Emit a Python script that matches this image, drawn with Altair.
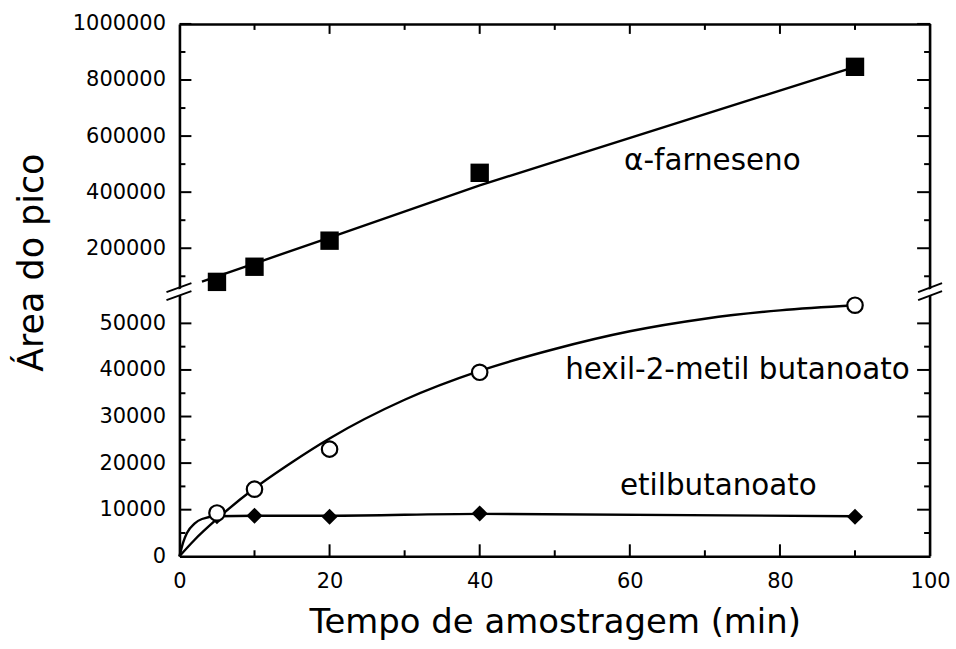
import altair as alt
import pandas as pd

# Sampling times (min)
tempo = [5, 10, 20, 40, 90]

# Peak areas for each compound
farneseno = [80000, 134000, 227000, 469000, 847000]
hexil = [9300, 14400, 23000, 39500, 53900]
etil = [8600, 8700, 8500, 9200, 8500]

# Trend curves drawn through each series
farneseno_fit_x = [3, 20, 40, 90]
farneseno_fit_y = [81000, 238000, 424000, 847000]
hexil_fit_x = [0, 2, 5, 10, 15, 20, 30, 40, 50, 60, 70, 80, 90]
hexil_fit_y = [0, 3500, 8000, 14600, 20200, 25300, 33600, 39800, 44500, 48300, 51000, 52800, 53900]
etil_fit_x = [0, 0.5, 1, 2, 3, 5, 10, 20, 40, 90]
etil_fit_y = [0, 3000, 5000, 7000, 8000, 8600, 8700, 8700, 9100, 8600]

# Axis tick positions
x_labels = [0, 20, 40, 60, 80, 100]
x_major = [20, 40, 60, 80]
x_minor = [10, 30, 50, 70, 90]
upper_labels = [200000, 400000, 600000, 800000, 1000000]
upper_minor = [100000, 300000, 500000, 700000, 900000]
lower_labels = [0, 10000, 20000, 30000, 40000, 50000]
lower_major = [10000, 20000, 30000, 40000, 50000]
lower_minor = [5000, 15000, 25000, 35000, 45000]

FONT = "DejaVu Sans"
W = 753
H_UP = 270
H_LOW = 264
LW = 2.4
AXW = 2.6
LABEL_SIZE = 29.5

xs = alt.Scale(domain=[0, 100], nice=False, zero=False)
ys_up = alt.Scale(domain=[40000, 1000000], nice=False, zero=False)
ys_low = alt.Scale(domain=[0, 56500], nice=False, zero=False)

# Shared axis definitions (every layer of a panel carries the same one)
ax_x_top = alt.Axis(
    orient="top", values=x_major, labels=False, ticks=False,
    domain=True, domainColor="black", domainWidth=AXW, grid=False, title=None,
)
ax_y_up = alt.Axis(
    values=upper_labels, format="d", ticks=False, domain=True,
    domainColor="black", domainWidth=AXW, grid=False, title=None,
    labelFont=FONT, labelFontSize=21, labelPadding=14, labelColor="black",
)
ax_x_bottom = alt.Axis(
    values=x_labels, ticks=False, domain=True, domainColor="black",
    domainWidth=AXW, grid=False, labelFont=FONT, labelFontSize=21,
    labelPadding=14, labelColor="black", labelFlush=False,
    title="Tempo de amostragem (min)", titleFont=FONT, titleFontSize=34,
    titleFontWeight="normal", titleColor="black", titlePadding=14,
)
ax_y_low = alt.Axis(
    values=lower_labels, format="d", ticks=False, domain=True,
    domainColor="black", domainWidth=AXW, grid=False,
    labelFont=FONT, labelFontSize=21, labelPadding=14, labelColor="black",
    title="Área do pico", titleFont=FONT, titleFontSize=35,
    titleFontWeight="normal", titleColor="black", titleAngle=270,
    titleAlign="center", titleBaseline="alphabetic", titleX=-137, titleY=-31,
)

one = pd.DataFrame({"k": [0]})


def ticks_y(values, scale, axis, x0, x1):
    return alt.Chart(pd.DataFrame({"a": values})).mark_rule(
        color="black", strokeWidth=2
    ).encode(
        y=alt.Y("a:Q", scale=scale, axis=axis),
        x=alt.value(x0),
        x2=alt.value(x1),
    )


def ticks_x(values, axis, y0, y1):
    return alt.Chart(pd.DataFrame({"t": values})).mark_rule(
        color="black", strokeWidth=2
    ).encode(
        x=alt.X("t:Q", scale=xs, axis=axis),
        y=alt.value(y0),
        y2=alt.value(y1),
    )


def border(x, y0, y1):
    return alt.Chart(one).mark_rule(color="black", strokeWidth=AXW).encode(
        x=alt.value(x), y=alt.value(y0), y2=alt.value(y1)
    )


def seg(x0, y0, x1, y1, color="black", width=2):
    return alt.Chart(one).mark_rule(color=color, strokeWidth=width).encode(
        x=alt.value(x0), y=alt.value(y0), x2=alt.value(x1), y2=alt.value(y1)
    )


def label(text, x, y, scale_y, ax_x, ax_y, align):
    return alt.Chart(one).mark_text(
        text=text, font=FONT, fontSize=LABEL_SIZE, align=align,
        baseline="alphabetic", color="black",
    ).encode(
        x=alt.X(datum=x, type="quantitative", scale=xs, axis=ax_x),
        y=alt.Y(datum=y, type="quantitative", scale=scale_y, axis=ax_y),
    )


# ---------- upper panel: alpha-farnesene ----------
far_pts = pd.DataFrame({"t": tempo, "a": farneseno})
far_fit = pd.DataFrame({"t": farneseno_fit_x, "a": farneseno_fit_y})

far_line = alt.Chart(far_fit).mark_line(color="black", strokeWidth=LW).encode(
    x=alt.X("t:Q", scale=xs, axis=ax_x_top),
    y=alt.Y("a:Q", scale=ys_up, axis=ax_y_up),
)

far_sq = alt.Chart(far_pts).mark_point(
    shape="square", filled=True, color="black", size=340, opacity=1
).encode(
    x=alt.X("t:Q", scale=xs, axis=ax_x_top),
    y=alt.Y("a:Q", scale=ys_up, axis=ax_y_up),
)

upper = alt.layer(
    far_line,
    far_sq,
    label("α-farneseno", 71, 480000, ys_up, ax_x_top, ax_y_up, "center"),
    ticks_y(upper_labels, ys_up, ax_y_up, 0, 12),
    ticks_y(upper_minor, ys_up, ax_y_up, 0, 6),
    ticks_y(upper_labels, ys_up, ax_y_up, W - 13, W),
    ticks_y(upper_minor, ys_up, ax_y_up, W - 6, W),
    ticks_x(x_major, ax_x_top, 0, 10),
    ticks_x(x_minor, ax_x_top, 0, 6),
    border(W, 0, H_UP),
).properties(width=W, height=H_UP)

# ---------- lower panel: esters ----------
hex_pts = pd.DataFrame({"t": tempo, "a": hexil})
hex_fit = pd.DataFrame({"t": hexil_fit_x, "a": hexil_fit_y})
etil_pts = pd.DataFrame({"t": tempo, "a": etil})
etil_fit = pd.DataFrame({"t": etil_fit_x, "a": etil_fit_y})


def enc_low(ch):
    return ch.encode(
        x=alt.X("t:Q", scale=xs, axis=ax_x_bottom),
        y=alt.Y("a:Q", scale=ys_low, axis=ax_y_low),
    )


hex_line = enc_low(alt.Chart(hex_fit).mark_line(
    color="black", strokeWidth=LW, interpolate="monotone"))
etil_line = enc_low(alt.Chart(etil_fit).mark_line(
    color="black", strokeWidth=LW, interpolate="monotone"))
etil_dm = enc_low(alt.Chart(etil_pts).mark_point(
    shape="diamond", filled=True, color="black", size=260, opacity=1))
hex_pt = enc_low(alt.Chart(hex_pts).mark_point(
    shape="circle", fill="white", stroke="black", strokeWidth=2.2, size=240,
    opacity=1, fillOpacity=1, filled=False))

lower = alt.layer(
    etil_line,
    hex_line,
    etil_dm,
    hex_pt,
    label("hexil-2-metil butanoato", 97.3, 38000, ys_low, ax_x_bottom, ax_y_low, "right"),
    label("etilbutanoato", 71.8, 13200, ys_low, ax_x_bottom, ax_y_low, "center"),
    ticks_y(lower_major, ys_low, ax_y_low, 0, 12),
    ticks_y(lower_minor, ys_low, ax_y_low, 0, 6),
    ticks_y(lower_major, ys_low, ax_y_low, W - 13, W),
    ticks_y(lower_minor, ys_low, ax_y_low, W - 6, W),
    ticks_x(x_major, ax_x_bottom, H_LOW - 12, H_LOW),
    ticks_x(x_minor, ax_x_bottom, H_LOW - 6, H_LOW),
    border(W, 0, H_LOW),
    # axis break marks, left and right
    seg(-10, 3, 9, -4, color="white", width=6),
    seg(-13, -1, 12, -10),
    seg(-13, 7, 12, -2),
    seg(W - 10, 3, W + 9, -4, color="white", width=6),
    seg(W - 12, -1, W + 12, -10),
    seg(W - 12, 7, W + 12, -2),
).properties(width=W, height=H_LOW)

chart = alt.vconcat(upper, lower, spacing=0, bounds="flush").properties(
    padding={"left": 14, "top": 12, "right": 5, "bottom": 5},
    background="white",
).configure_view(stroke=None)

chart.save("out.html", embed_options={"renderer": "svg", "actions": False})
